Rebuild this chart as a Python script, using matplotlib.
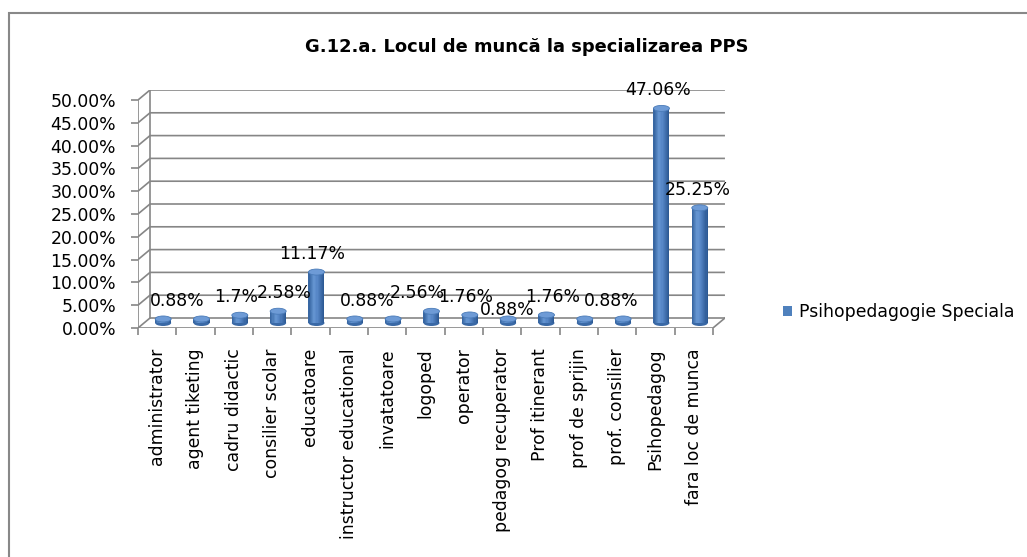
import matplotlib
matplotlib.use("Agg")
import matplotlib.pyplot as plt
import numpy as np
from matplotlib.patches import Ellipse, Rectangle, Patch
from matplotlib.colors import LinearSegmentedColormap

# ---------------- data ----------------
title = "G.12.a. Locul de muncă la specializarea PPS"
series_name = "Psihopedagogie Speciala"
categories = ["administrator", "agent tiketing", "cadru didactic", "consilier scolar",
              "educatoare", "instructor educational", "invatatoare", "logoped",
              "operator", "pedagog recuperator", "Prof itinerant", "prof de sprijin",
              "prof. consilier", "Psihopedagog", "fara loc de munca"]
values = [0.88, 0.88, 1.70, 2.58, 11.17, 0.88, 0.88, 2.56, 1.76, 0.88, 1.76, 0.88,
          0.88, 47.06, 25.25]
value_labels = ["0.88%", "", "1.7%", "2.58%", "11.17%", "0.88%", "", "2.56%", "1.76%",
                "0.88%", "1.76%", "0.88%", "", "47.06%", "25.25%"]
yticks = [0, 5, 10, 15, 20, 25, 30, 35, 40, 45, 50]
ytick_labels = ["0.00%", "5.00%", "10.00%", "15.00%", "20.00%", "25.00%", "30.00%",
                "35.00%", "40.00%", "45.00%", "50.00%"]

# ---------------- layout / style ----------------
W, H = 1027, 557
PX_CAT = 38.33          # pixels per category
PX_PCT = 4.56           # pixels per percent
DX = 12 / PX_CAT        # depth offset (x, data units)
DY = 10 / PX_PCT        # depth offset (y, data units)
X0PX, Y0PX = 138, 328   # front-plane origin in pixels
BW = 16 / PX_CAT        # cylinder width
EH = 6 / PX_PCT         # ellipse height
GRID = "#868686"
FS = 12.4
# label nudges in pixels (Excel-like placement, slightly separated)
label_nudge = [(14, 0), (0, 0), (-4, 0), (6, 0), (-4, 0), (12, 0), (0, 0), (-14, 0),
               (-4, 0), (-1, -9), (6, 0), (26, 0), (0, 0), (-3, 0), (-2, 0)]

plt.rcParams['font.family'] = ['DejaVu Sans']

fig = plt.figure(figsize=(W / 100, H / 100), dpi=100)
n = len(categories)
ax = fig.add_axes([X0PX / W, (H - Y0PX) / H, (n + DX) * PX_CAT / W, (50 + DY) * PX_PCT / H])
ax.set_xlim(0, n + DX)
ax.set_ylim(0, 50 + DY)
for s in ax.spines.values():
    s.set_visible(False)

# grid lines: diagonal on left wall + horizontal on back wall
for t in yticks:
    ax.plot([0, DX, n + DX], [t, t + DY, t + DY], color=GRID, lw=1.2, zorder=1,
            solid_capstyle='butt')
# back wall left vertical, front y axis
ax.plot([DX, DX], [DY, 50 + DY], color=GRID, lw=1.2, zorder=1)
ax.plot([0, 0], [0, 50], color=GRID, lw=1.2, zorder=1)
# floor front + right edge
ax.plot([0, n, n + DX], [0, 0, DY], color=GRID, lw=1.2, zorder=1)

# ticks
ax.set_yticks(yticks)
ax.set_yticklabels(ytick_labels, fontsize=FS)
ax.tick_params(axis='y', length=5, width=1.2, color=GRID, pad=10.8)
ax.set_xticks(np.arange(n + 1))
ax.set_xticklabels([])
ax.tick_params(axis='x', which='major', length=5, width=1.2, color=GRID)
ax.set_xticks(np.arange(n) + 0.5, minor=True)
ax.set_xticklabels(categories, minor=True, rotation=90, fontsize=FS)
ax.tick_params(axis='x', which='minor', length=0, pad=14.4)

# cylinders
xc = np.arange(n) + 0.5 + DX / 2
base = DY / 2
cmap = LinearSegmentedColormap.from_list(
    "cyl", [(0, "#33629E"), (0.35, "#6797D3"), (0.55, "#5686C6"), (1, "#2A5690")])
for i in range(n):
    ax.add_patch(Ellipse((xc[i], base), BW, EH, facecolor="#3A69A6", edgecolor="none",
                         zorder=2))
n_sl = 14
sw = BW / n_sl
for k in range(n_sl):
    off = -BW / 2 + (k + 0.5) * sw
    ax.bar(xc + off, values, width=sw * 1.02, bottom=base, color=cmap((k + 0.5) / n_sl),
           edgecolor="none", zorder=3)
for i in range(n):
    ax.add_patch(Ellipse((xc[i], base + values[i]), BW, EH, facecolor="#6E9BD6",
                         edgecolor="#4A7BB8", lw=0.6, zorder=4))

# data labels
for i in range(n):
    if value_labels[i]:
        dxp, dyp = label_nudge[i]
        ax.annotate(value_labels[i], xy=(xc[i], base + values[i]),
                    xytext=(dxp, 18 + dyp), textcoords='offset pixels',
                    ha='center', va='center', fontsize=FS, zorder=5)

# title
fig.text(527 / W, 1 - 47 / H, title, ha='center', va='center', fontsize=12.9,
         fontweight='bold')

# legend
ax.legend(handles=[Patch(facecolor="#4F81BD", edgecolor="none")], labels=[series_name],
          loc='center left', bbox_to_anchor=(783 / W, 1 - 312 / H),
          bbox_transform=fig.transFigure, frameon=False, handlelength=0.55,
          handleheight=0.55, handletextpad=0.4, borderpad=0, borderaxespad=0,
          fontsize=FS)

# outer frame
fig.patches.append(Rectangle((9 / W, -0.05), 1.2, (H - 13) / H + 0.05,
                             transform=fig.transFigure, fill=False,
                             edgecolor="#888888", lw=1.5))

fig.savefig("out.png", dpi=100)
